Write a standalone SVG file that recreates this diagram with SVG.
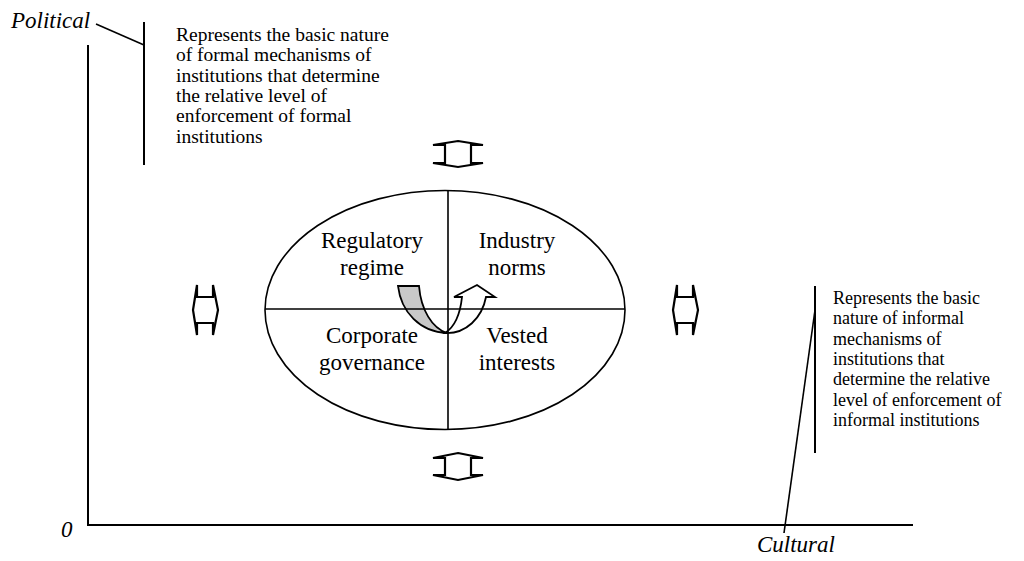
<svg xmlns="http://www.w3.org/2000/svg" width="1024" height="561" viewBox="0 0 1024 561">
<style>
.ln{stroke:#000;stroke-width:2;fill:none}
.thin{stroke:#000;stroke-width:1.6;fill:none}
.ax{font-family:"Liberation Serif","Times New Roman",serif;font-style:italic;font-size:23px;fill:#000}
.q{font-family:"Liberation Serif","Times New Roman",serif;font-size:23px;fill:#000;text-anchor:middle}
.c{font-family:"Liberation Serif","Times New Roman",serif;font-size:18px;fill:#000}
.cl{font-family:"Liberation Serif","Times New Roman",serif;font-size:19.5px;fill:#000}
.da{fill:#fff;stroke:#000;stroke-width:2.2;stroke-linejoin:miter}
</style>
<g id="axes">
<line class="ln" x1="88" y1="45" x2="88" y2="525"/>
<line class="ln" x1="87" y1="525" x2="913" y2="525"/>
<text class="ax" x="61" y="537">0</text>
</g>
<g id="political">
<text class="ax" x="11" y="28">Political</text>
<line class="thin" x1="96" y1="24" x2="144" y2="45"/>
<line class="ln" x1="144" y1="22" x2="144" y2="165"/>
<text class="cl" x="176" y="41">Represents the basic nature</text>
<text class="cl" x="176" y="61.3">of formal mechanisms of</text>
<text class="cl" x="176" y="81.6">institutions that determine</text>
<text class="cl" x="176" y="101.9">the relative level of</text>
<text class="cl" x="176" y="122.2">enforcement of formal</text>
<text class="cl" x="176" y="142.5">institutions</text>
</g>
<g id="cultural">
<text class="ax" x="757" y="552">Cultural</text>
<line class="thin" x1="815" y1="310" x2="784" y2="533"/>
<line class="ln" x1="815" y1="286" x2="815" y2="453"/>
<text class="c" x="833" y="304">Represents the basic</text>
<text class="c" x="833" y="324.3">nature of informal</text>
<text class="c" x="833" y="344.6">mechanisms of</text>
<text class="c" x="833" y="364.9">institutions that</text>
<text class="c" x="833" y="385.2">determine the relative</text>
<text class="c" x="833" y="405.5">level of enforcement of</text>
<text class="c" x="833" y="425.8">informal institutions</text>
</g>
<g id="ellipse">
<ellipse cx="445" cy="310" rx="180" ry="119.5" class="thin"/>
</g>
<g id="cycle">
<path d="M398,286 L419,286 C421,310 432,328 447,333 C420,332 401,312 398,286 Z" fill="#c8c8c8" stroke="#000" stroke-width="1.8"/>
<path d="M445,333 C466,334 482,318 486,297 L495,297 L477,285 L454,297 L462,297 C460,316 453,328 445,333 Z" fill="#fff" stroke="#000" stroke-width="1.8"/>
</g>
<g id="dividers">
<line class="thin" x1="448" y1="190" x2="448" y2="429"/>
<line class="thin" x1="265" y1="309" x2="625" y2="309"/>
</g>
<g id="quadrants">
<text class="q" x="372" y="248">Regulatory</text>
<text class="q" x="372" y="275">regime</text>
<text class="q" x="517" y="248">Industry</text>
<text class="q" x="517" y="275">norms</text>
<text class="q" x="372" y="343">Corporate</text>
<text class="q" x="372" y="370">governance</text>
<text class="q" x="517" y="343">Vested</text>
<text class="q" x="517" y="370">interests</text>
</g>
<g id="arrow-top">
<polygon class="da" points="458,141 483,145 471,145 471,163 483,163 458,167 433,163 445,163 445,145 433,145"/>
</g>
<g id="arrow-bottom">
<polygon class="da" points="458,453 483,458 471,458 471,475 483,475 458,480 433,475 445,475 445,458 433,458"/>
</g>
<g id="arrow-left">
<polygon class="da" points="193,310 197,285 197,297 213,297 213,285 218,310 213,335 213,323 197,323 197,335"/>
</g>
<g id="arrow-right">
<polygon class="da" points="673,310 677,285 677,297 693,297 693,285 698,310 693,335 693,323 677,323 677,335"/>
</g>
</svg>
